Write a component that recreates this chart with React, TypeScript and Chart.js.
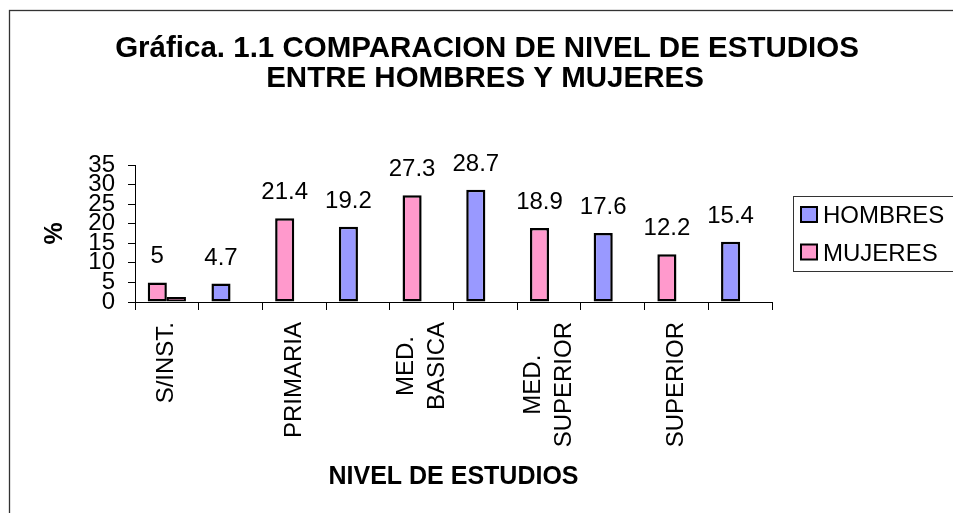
import React, { useEffect, useRef } from "react";
import { Chart, registerables } from "chart.js";

Chart.register(...registerables);

const FONT = "'Liberation Sans', Arial, Helvetica, sans-serif";

// ---- data ----
const categoryLabels: string[][] = [
  ["S/INST."],
  [""],
  ["PRIMARIA"],
  [""],
  ["MED.", "BASICA"],
  [""],
  ["MED.", "SUPERIOR"],
  [""],
  ["SUPERIOR"],
  [""],
];
const mujeres = [5, 21.4, 27.3, 18.9, 12.2];
const hombres = [4.7, 19.2, 28.7, 17.6, 15.4];
const extraBar = [1.3]; // small unlabeled bar beside S/INST.
const yTicks = [0, 5, 10, 15, 20, 25, 30, 35];
const seriesNames = ["HOMBRES", "MUJERES"];
const titleLines = ["Gráfica. 1.1 COMPARACION DE NIVEL DE ESTUDIOS", "ENTRE HOMBRES Y MUJERES"];
const xTitle = "NIVEL DE ESTUDIOS";
const yTitle = "%";

const PINK = "#FF99CC";
const BLUE = "#9999FF";
const MAUVE = "#993366";

// build interleaved slot values: mujeres then hombres in consecutive categories
const slot1Values: (number | null)[] = [];
const slot1Colors: string[] = [];
mujeres.forEach((m, i) => {
  slot1Values.push(m);
  slot1Colors.push(PINK);
  slot1Values.push(hombres[i]);
  slot1Colors.push(BLUE);
});
const slot2Values: (number | null)[] = categoryLabels.map((_, i) => (i < extraBar.length ? extraBar[i] : null));

const decorPlugin = {
  id: "decor",
  afterDraw(chart: any) {
    const ctx: CanvasRenderingContext2D = chart.ctx;
    const xs = chart.scales.x;
    const area = chart.chartArea;
    ctx.save();

    // outer chart border
    ctx.strokeStyle = "#333";
    ctx.lineWidth = 1.3;
    ctx.strokeRect(9.5, 10.5, 3000, 3000);

    // title
    ctx.fillStyle = "#000";
    ctx.font = `bold 29.5px ${FONT}`;
    ctx.textAlign = "center";
    ctx.textBaseline = "alphabetic";
    ctx.fillText(titleLines[0], 487, 56.5);
    ctx.fillText(titleLines[1], 485, 87);

    // y title
    ctx.save();
    ctx.translate(55, (area.top + area.bottom) / 2);
    ctx.rotate(-Math.PI / 2);
    ctx.font = `bold 25px ${FONT}`;
    ctx.textAlign = "center";
    ctx.textBaseline = "middle";
    ctx.fillText(yTitle, 0, 0);
    ctx.restore();

    // x title
    ctx.font = `bold 25px ${FONT}`;
    ctx.textAlign = "center";
    ctx.textBaseline = "alphabetic";
    ctx.fillText(xTitle, (area.left + area.right) / 2, 484);

    // x category labels (rotated, block centered on category)
    ctx.font = `24px ${FONT}`;
    categoryLabels.forEach((lines, i) => {
      const cx = xs.getPixelForValue(i);
      const W = Math.max(...lines.map((l) => ctx.measureText(l).width));
      lines.forEach((line, k) => {
        if (!line) return;
        const lx = cx + (k - (lines.length - 1) / 2) * 31;
        ctx.save();
        ctx.translate(lx, 322);
        ctx.rotate(-Math.PI / 2);
        ctx.textAlign = "center";
        ctx.textBaseline = "middle";
        ctx.fillText(line, -W / 2, 0);
        ctx.restore();
      });
    });

    // value labels on slot-1 bars
    const meta = chart.getDatasetMeta(0);
    ctx.font = `24px ${FONT}`;
    ctx.textAlign = "center";
    ctx.textBaseline = "alphabetic";
    meta.data.forEach((el: any, i: number) => {
      const v = slot1Values[i];
      if (v == null) return;
      ctx.fillText(String(v), el.x, el.y - 19);
    });

    // legend
    ctx.strokeStyle = "#333";
    ctx.lineWidth = 1;
    ctx.strokeRect(793.5, 196.5, 400, 75);
    const items = [
      { name: seriesNames[0], color: BLUE, cy: 214.5 },
      { name: seriesNames[1], color: PINK, cy: 252 },
    ];
    ctx.textAlign = "left";
    items.forEach((it) => {
      ctx.fillStyle = it.color;
      ctx.fillRect(801, it.cy - 7.5, 16, 15);
      ctx.strokeStyle = "#000";
      ctx.lineWidth = 2;
      ctx.strokeRect(801, it.cy - 7.5, 16, 15);
      ctx.fillStyle = "#000";
      ctx.fillText(it.name, 823, it.cy + 8.5);
    });

    ctx.restore();
  },
};

export default function App() {
  const canvasRef = useRef<HTMLCanvasElement | null>(null);

  useEffect(() => {
    const canvas = canvasRef.current;
    if (!canvas) return;
    const chart = new Chart(canvas, {
      type: "bar",
      data: {
        labels: categoryLabels.map((l) => l.join(" ")),
        datasets: [
          {
            label: "slot1",
            data: slot1Values,
            backgroundColor: slot1Colors,
            borderColor: "#000",
            borderWidth: 2.5,
            borderSkipped: false,
            categoryPercentage: 0.6,
            barPercentage: 1.0,
          },
          {
            label: "slot2",
            data: slot2Values,
            backgroundColor: MAUVE,
            borderColor: "#000",
            borderWidth: 2,
            borderSkipped: false,
            categoryPercentage: 0.6,
            barPercentage: 1.0,
          },
        ],
      },
      options: {
        responsive: false,
        animation: false,
        layout: { padding: { left: 0, top: 165, right: 953 - 772, bottom: 0 } },
        plugins: {
          legend: { display: false },
          title: { display: false },
          tooltip: { enabled: false },
        },
        scales: {
          x: {
            type: "category",
            offset: true,
            ticks: { display: false },
            grid: {
              offset: true,
              drawOnChartArea: false,
              drawTicks: true,
              tickLength: 8,
              color: "#000",
              lineWidth: 1,
            },
            border: { display: true, color: "#000", width: 1 },
            afterFit: (s: any) => {
              s.height = 211;
            },
          },
          y: {
            min: yTicks[0],
            max: yTicks[yTicks.length - 1],
            afterBuildTicks: (s: any) => {
              s.ticks = yTicks.map((v) => ({ value: v }));
            },
            ticks: {
              autoSkip: false,
              stepSize: 5,
              color: "#000",
              padding: 13,
              font: { family: FONT, size: 24 },
            },
            grid: {
              drawOnChartArea: false,
              drawTicks: true,
              tickLength: 7,
              color: "#000",
              lineWidth: 1,
            },
            border: { display: true, color: "#000", width: 1 },
            afterFit: (s: any) => {
              s.width = 135;
            },
          },
        },
      },
      plugins: [decorPlugin],
    } as any);
    return () => chart.destroy();
  }, []);

  return (
    <div style={{ position: "fixed", left: 0, top: 0, width: 953, height: 513, background: "#fff" }}>
      <canvas ref={canvasRef} width={953} height={513} style={{ display: "block" }} />
    </div>
  );
}
